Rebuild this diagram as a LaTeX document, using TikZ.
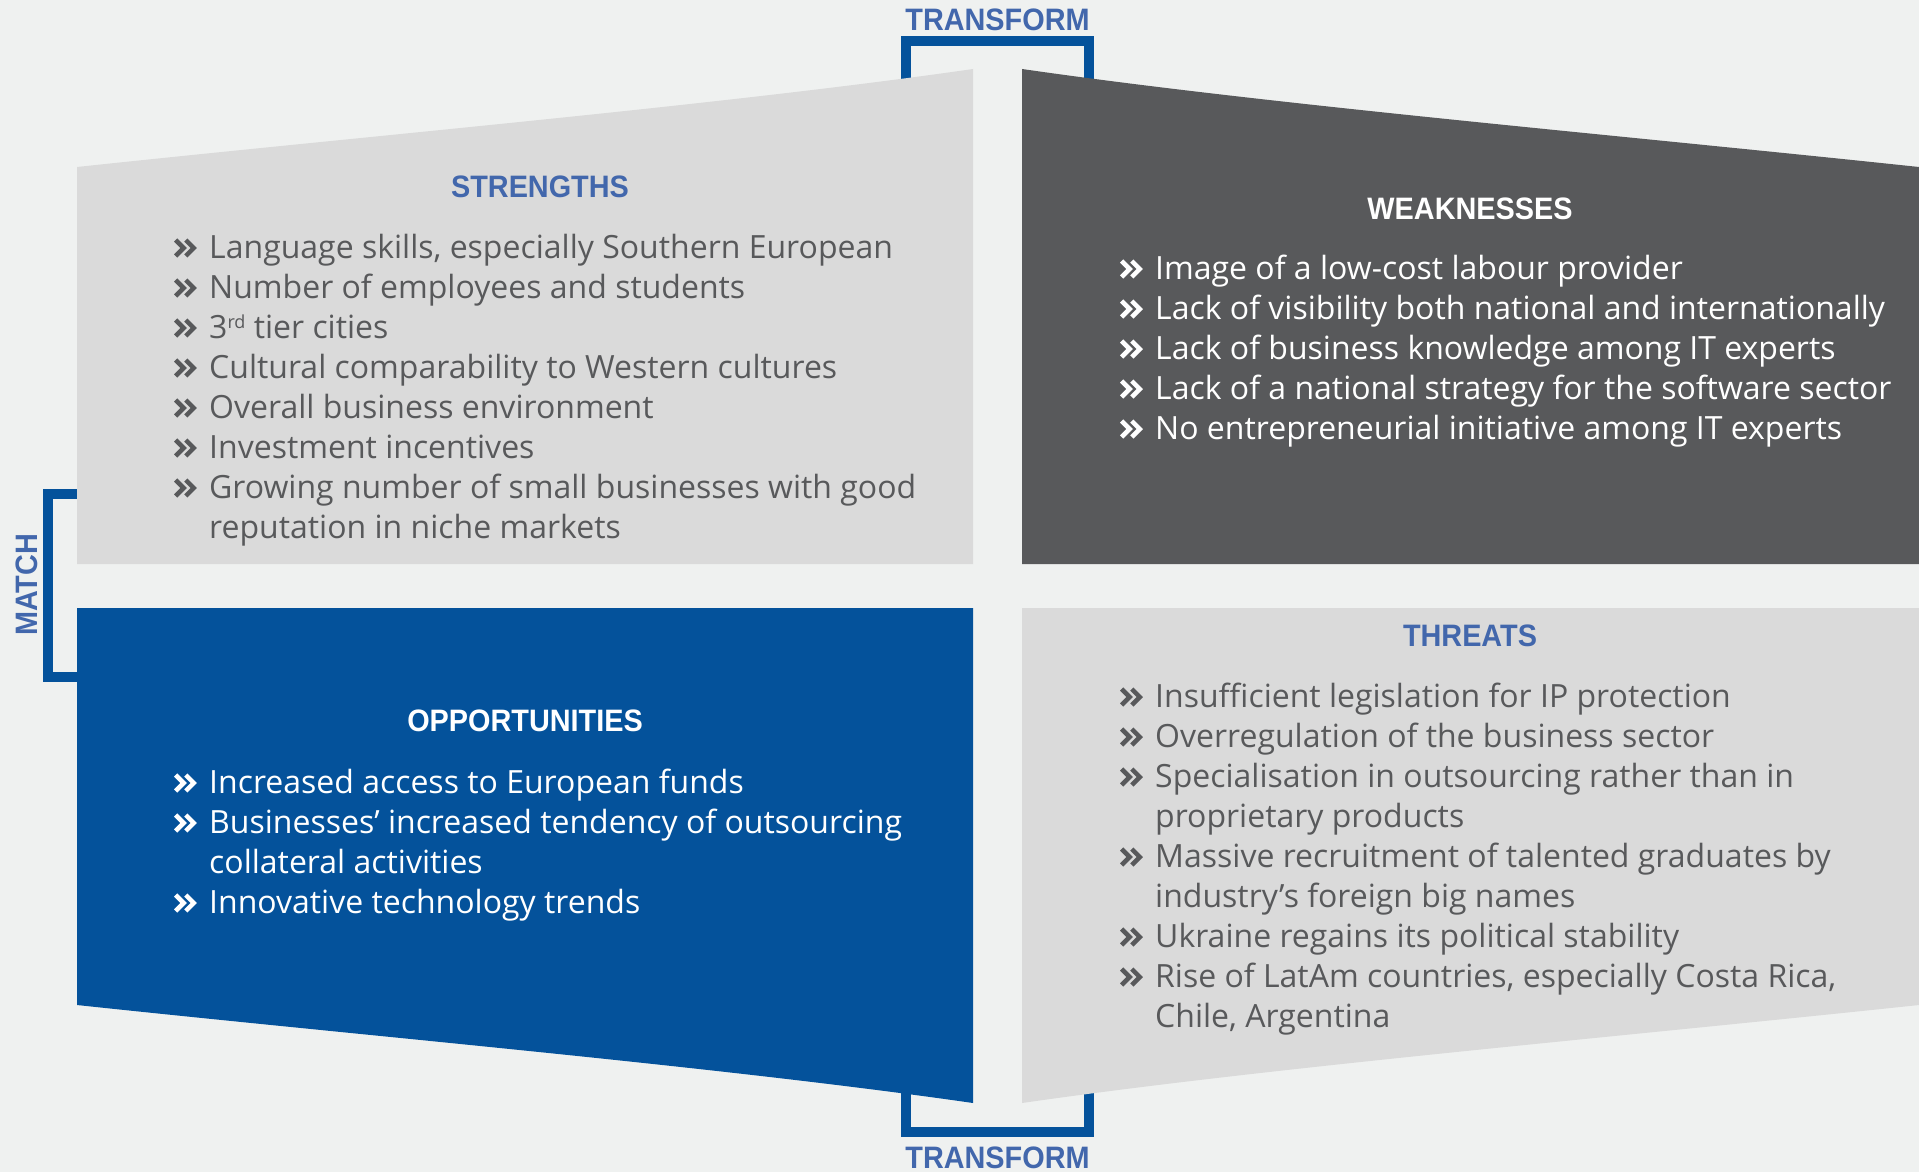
\documentclass[tikz,border=0pt]{standalone}
\usepackage{fontspec}
\setmainfont{Open Sans}
\newfontfamily\headfont[FakeStretch=0.93]{Liberation Sans}

\definecolor{bg}{HTML}{EFF1F0}
\definecolor{panelgray}{HTML}{DADADA}
\definecolor{paneldark}{HTML}{58595B}
\definecolor{swotblue}{HTML}{04529B}
\definecolor{headblue}{HTML}{4267AC}
\definecolor{bodygray}{HTML}{58595B}

\newcommand{\rdsup}{\raisebox{10pt}{\fontsize{18}{18}\selectfont rd}}

\tikzset{
    chev/.pic={\draw[line width=4.5pt, line join=miter]
        (-33.4,-2) -- (-25.4,-10) -- (-33.4,-18) (-23.2,-2) -- (-15.2,-10) -- (-23.2,-18);}
}

\begin{document}
\begin{tikzpicture}[x=1pt,y=-1pt,
    head/.style={font=\headfont\bfseries\fontsize{31}{31}\selectfont, inner sep=0, anchor=base},
    item/.style={font=\fontsize{32}{40}\selectfont, inner sep=0, anchor=base west},
    bracket/.style={draw=swotblue, line width=10pt, line join=miter}]

        \useasboundingbox (0,0) rectangle (1919,1172);
        \fill[bg] (0,0) rectangle (1919,1172);

        % brackets behind the panels
        \draw[bracket] (906,100) -- (906,41) -- (1089,41) -- (1089,100);
        \draw[bracket] (906,1075) -- (906,1132) -- (1089,1132) -- (1089,1075);
        \draw[bracket] (100,494) -- (48,494) -- (48,677) -- (100,677);

        \node[head, text=headblue] (ttop) at (997.5,30.5) {TRANSFORM};
        \node[head, text=headblue] (tbot) at (997.5,1168.5) {TRANSFORM};
        \node[head, text=headblue, rotate=90] (match) at (37,585) {MATCH};

        % panels
        \fill[panelgray] (77,564) -- (77,167) .. controls (377,135) and (723,105) .. (973,69) -- (973,564) -- cycle;
        \fill[paneldark] (1022,564) -- (1022,69) .. controls (1272,105) and (1618,135) .. (1919,167) -- (1919,564) -- cycle;
        \fill[swotblue] (77,608) -- (77,1005) .. controls (377,1037) and (723,1067) .. (973,1103) -- (973,608) -- cycle;
        \fill[panelgray] (1022,608) -- (1022,1103) .. controls (1272,1067) and (1618,1037) .. (1919,1005) -- (1919,608) -- cycle;

        % strengths
        \node[head, text=headblue] (shead) at (540,197) {STRENGTHS};
        \foreach \t [count=\i from 0] in {{Language skills, especially Southern European},
            {Number of employees and students}, {3\rdsup{} tier cities},
            {Cultural comparability to Western cultures}, {Overall business environment},
            {Investment incentives}, {Growing number of small businesses with good},
            {reputation in niche markets}}
            \node[item, text=bodygray] (s\i) at (209,{258+40*\i}) {\t};
        \foreach \i in {0,...,6}
            \pic[bodygray] at (s\i.base west) {chev};

        % weaknesses
        \node[head, text=white] (whead) at (1470,219) {WEAKNESSES};
        \foreach \t [count=\i from 0] in {{Image of a low-cost labour provider},
            {Lack of visibility both national and internationally},
            {Lack of business knowledge among IT experts},
            {Lack of a national strategy for the software sector},
            {No entrepreneurial initiative among IT experts}}
            \node[item, text=white] (w\i) at (1155,{279+40*\i}) {\t};
        \foreach \i in {0,...,4}
            \pic[white] at (w\i.base west) {chev};

        % opportunities
        \node[head, text=white] (ohead) at (525,731) {OPPORTUNITIES};
        \foreach \t [count=\i from 0] in {{Increased access to European funds},
            {Businesses’ increased tendency of outsourcing}, {collateral activities},
            {Innovative technology trends}}
            \node[item, text=white] (o\i) at (209,{793+40*\i}) {\t};
        \foreach \i in {0,1,3}
            \pic[white] at (o\i.base west) {chev};

        % threats
        \node[head, text=headblue] (thead) at (1470,646) {THREATS};
        \foreach \t [count=\i from 0] in {{Insufficient legislation for IP protection},
            {Overregulation of the business sector},
            {Specialisation in outsourcing rather than in}, {proprietary products},
            {Massive recruitment of talented graduates by}, {industry’s foreign big names},
            {Ukraine regains its political stability},
            {Rise of LatAm countries, especially Costa Rica,}, {Chile, Argentina}}
            \node[item, text=bodygray] (t\i) at (1155,{707+40*\i}) {\t};
        \foreach \i in {0,1,2,4,6,7}
            \pic[bodygray] at (t\i.base west) {chev};

\end{tikzpicture}
\end{document}
